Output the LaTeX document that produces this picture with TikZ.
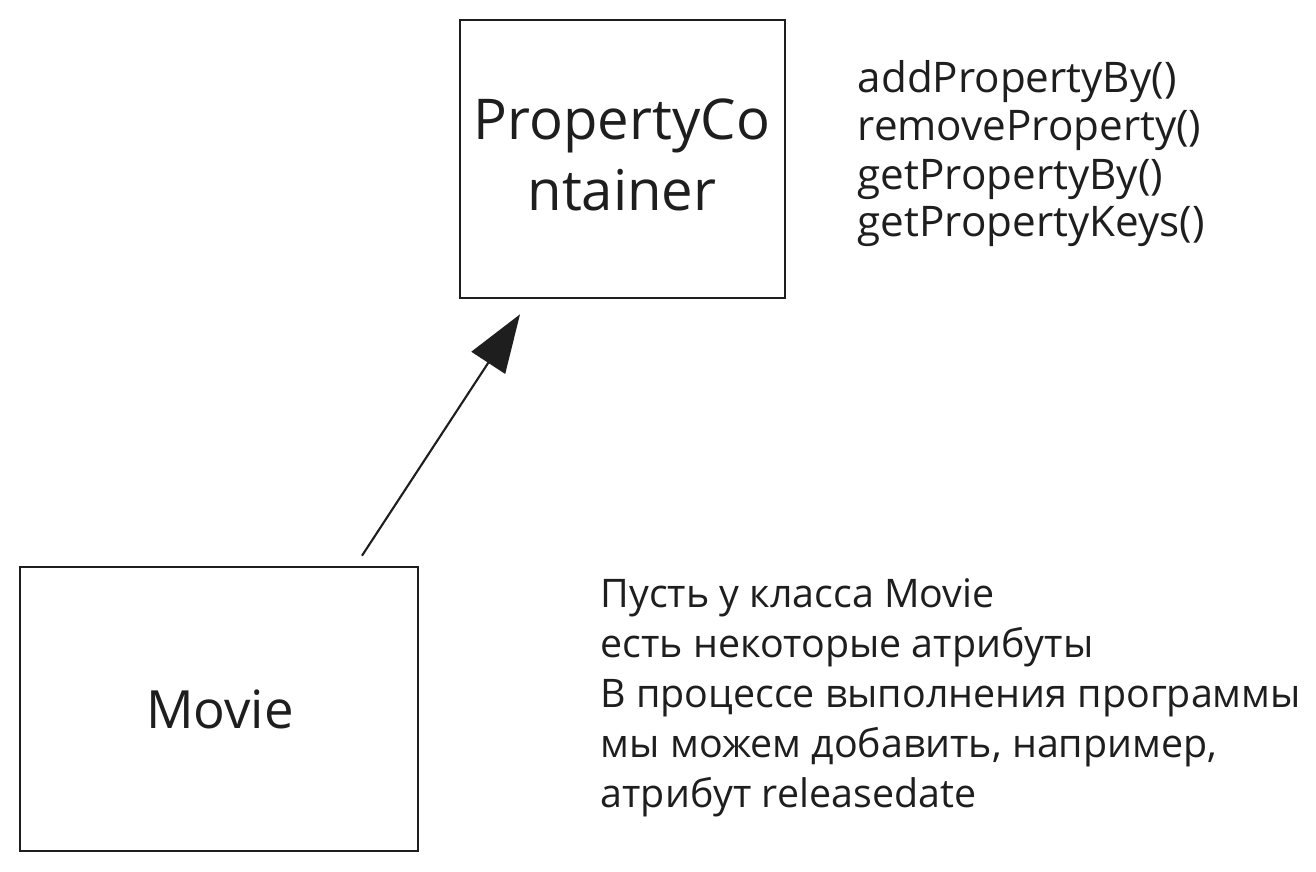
\documentclass[tikz,border=0pt]{standalone}
\usepackage{fontspec}
\setmainfont{Open Sans}
\usetikzlibrary{arrows.meta}
\definecolor{ink}{HTML}{1E1E1E}
\tikzset{
  box/.style={draw=ink, line width=0.75pt, fill=none, inner sep=0pt},
  txt/.style={inner sep=0pt, text=ink, anchor=base west},
  ctxt/.style={inner sep=0pt, text=ink, anchor=base},
  conn/.style={draw=ink, line width=0.6pt, -{Triangle[length=0.58cm,width=0.40cm]}},
}
\begin{document}
\begin{tikzpicture}
\useasboundingbox (0,0) rectangle (13.16,8.71);
\fill[white] (0,0) rectangle (13.16,8.71);
% boxes
\node[box, minimum width=3.25cm, minimum height=2.78cm] (pc) at (6.225,7.12) {};
\node[box, minimum width=3.98cm, minimum height=2.84cm] (mvbox) at (2.19,1.62) {};
% titles
\node[ctxt, font=\fontsize{16}{19}\selectfont] (pc1) at (6.22,7.31) {PropertyCo};
\node[ctxt, font=\fontsize{16}{19}\selectfont] (pc2) at (6.22,6.61) {ntainer};
\node[ctxt, font=\fontsize{15}{18}\selectfont] (mv) at (2.20,1.43) {Movie};
% methods
\foreach \t [count=\i] in {addPropertyBy(), removeProperty(), getPropertyBy(), getPropertyKeys()}
  \node[txt, font=\fontsize{12}{14}\selectfont] (m\i) at (8.57,{7.78-0.48*(\i-1)}) {\t};
% russian note
\foreach \t [count=\i] in {Пусть у класса Movie, есть некоторые атрибуты, В процессе выполнения программы, {мы можем добавить, например,}, атрибут releasedate}
  \node[txt, font=\fontsize{11.2}{14}\selectfont] (r\i) at (6.00,{2.64-0.50*(\i-1)}) {\t};
% connector
\draw[conn] ([xshift=1.43cm,yshift=0.10cm]mvbox.north) -- ([xshift=-1.025cm,yshift=-0.15cm]pc.south);
\end{tikzpicture}
\end{document}
